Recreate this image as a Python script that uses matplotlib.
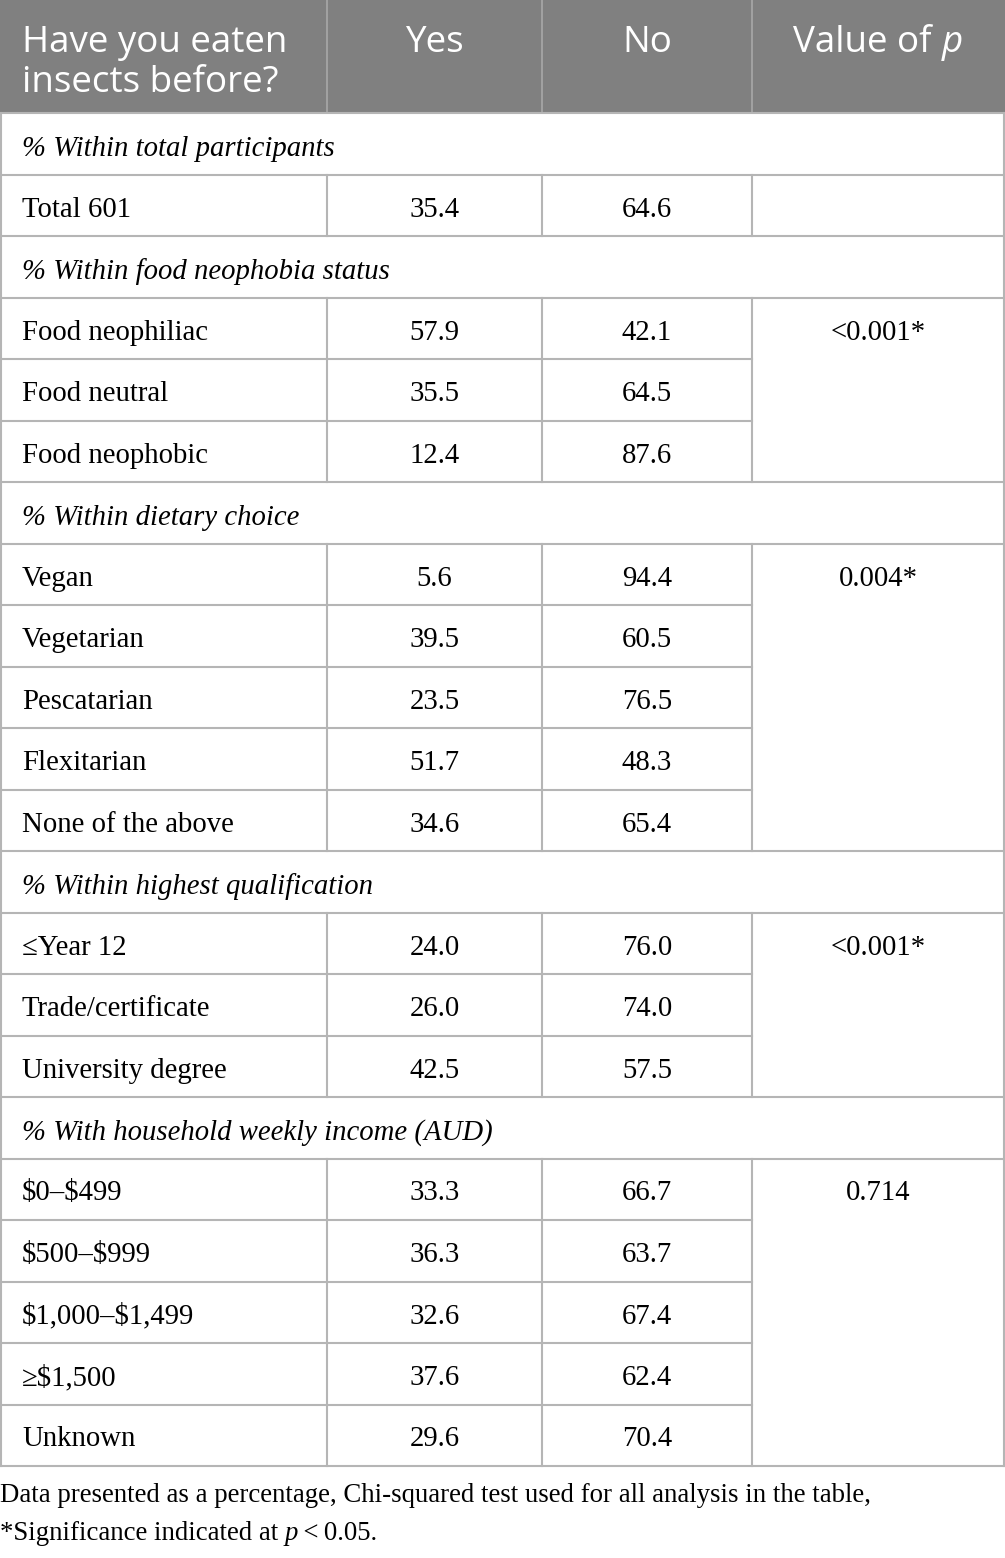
import matplotlib
matplotlib.use("Agg")
import matplotlib.pyplot as plt
from matplotlib.patches import Rectangle

plt.rcParams["text.parse_math"] = False

# ---------------- data ----------------
header_first = ["Have you eaten", "insects before?"]
header_cols = ["Yes", "No"]
header_p = ("Value of ", "p")

sections = [
    "% Within total participants",
    "% Within food neophobia status",
    "% Within dietary choice",
    "% Within highest qualification",
    "% With household weekly income (AUD)",
]
row_labels = [
    ["Total 601"],
    ["Food neophiliac", "Food neutral", "Food neophobic"],
    ["Vegan", "Vegetarian", "Pescatarian", "Flexitarian", "None of the above"],
    ["\u2264Year 12", "Trade/certificate", "University degree"],
    ["$0\u2013$499", "$500\u2013$999", "$1,000\u2013$1,499", "\u2265$1,500", "Unknown"],
]
yes_vals = [
    ["35.4"],
    ["57.9", "35.5", "12.4"],
    ["5.6", "39.5", "23.5", "51.7", "34.6"],
    ["24.0", "26.0", "42.5"],
    ["33.3", "36.3", "32.6", "37.6", "29.6"],
]
no_vals = [
    ["64.6"],
    ["42.1", "64.5", "87.6"],
    ["94.4", "60.5", "76.5", "48.3", "65.4"],
    ["76.0", "74.0", "57.5"],
    ["66.7", "63.7", "67.4", "62.4", "70.4"],
]
p_vals = ["", "<0.001*", "0.004*", "<0.001*", "0.714"]

footer1 = "Data presented as a percentage, Chi-squared test used for all analysis in the table,"
footer2 = ("*Significance indicated at ", "p", "\u2009<\u20090.05.")

# ---------------- layout ----------------
W, H = 1005, 1558
fig = plt.figure(figsize=(W / 100, H / 100), dpi=100)
ax = fig.add_axes([0, 0, 1, 1])
ax.set_xlim(0, W)
ax.set_ylim(H, 0)
ax.axis("off")

col_x = [0, 327, 542, 752, 1004]
header_h = 113
row_h = 61.5
base_off = 42
line_c = "#b5b5b5"
hdr_bg = "#808080"
hdr_line = "#a8a8a8"
serif = ["Liberation Serif", "DejaVu Serif"]
sans = ["Open Sans", "DejaVu Sans"]
body_fs = 20.7
hdr_fs = 26.5
foot_fs = 19.3

# header
ax.add_patch(Rectangle((0, 0), W, header_h, facecolor=hdr_bg, edgecolor="none"))
for x in col_x[1:4]:
    ax.plot([x, x], [0, header_h], color=hdr_line, lw=1.2)
ax.text(22, 52, header_first[0], fontsize=hdr_fs, family=sans, color="white", va="baseline", ha="left")
ax.text(22, 92, header_first[1], fontsize=hdr_fs, family=sans, color="white", va="baseline", ha="left")
for i, t in enumerate(header_cols):
    ax.text((col_x[i + 1] + col_x[i + 2]) / 2, 52, t, fontsize=hdr_fs, family=sans,
            color="white", va="baseline", ha="center")

fig.canvas.draw()
r = fig.canvas.get_renderer()
pc = (col_x[3] + col_x[4]) / 2
t1 = ax.text(0, 52, header_p[0], fontsize=hdr_fs, family=sans, color="white", va="baseline", ha="left")
t2 = ax.text(0, 52, header_p[1], fontsize=hdr_fs, family=sans, style="italic", color="white",
             va="baseline", ha="left")
w1 = t1.get_window_extent(r).width
w2 = t2.get_window_extent(r).width
x0 = pc - (w1 + w2) / 2
t1.set_x(x0)
t2.set_x(x0 + w1)

# body
y = header_h
ax.plot([0, W], [header_h, header_h], color=line_c, lw=1.5)
for g, sec in enumerate(sections):
    ax.text(22, y + base_off + 1, sec, fontsize=body_fs, family=serif, style="italic",
            va="baseline", ha="left")
    y += row_h
    ax.plot([0, W], [y, y], color=line_c, lw=1.5)
    g_top = y
    n = len(row_labels[g])
    for k in range(n):
        by = y + base_off
        ax.text(22, by, row_labels[g][k], fontsize=body_fs, family=serif, va="baseline", ha="left")
        ax.text((col_x[1] + col_x[2]) / 2, by, yes_vals[g][k], fontsize=body_fs, family=serif,
                va="baseline", ha="center")
        ax.text((col_x[2] + col_x[3]) / 2, by, no_vals[g][k], fontsize=body_fs, family=serif,
                va="baseline", ha="center")
        y += row_h
        if k < n - 1:
            ax.plot([0, col_x[3]], [y, y], color=line_c, lw=1.5)
        else:
            ax.plot([0, W], [y, y], color=line_c, lw=1.5)
    for x in col_x[1:4]:
        ax.plot([x, x], [g_top, y], color=line_c, lw=1.5)
    if p_vals[g]:
        ax.text(pc, g_top + base_off, p_vals[g], fontsize=body_fs, family=serif,
                va="baseline", ha="center")

table_bottom = y
ax.plot([0.75, 0.75], [header_h, table_bottom], color=line_c, lw=1.5)
ax.plot([W - 1.5, W - 1.5], [header_h, table_bottom], color=line_c, lw=1.5)

# footer
ax.text(0, 1502, footer1, fontsize=foot_fs, family=serif, va="baseline", ha="left")
fig.canvas.draw()
r = fig.canvas.get_renderer()
xx = 0
for i, part in enumerate(footer2):
    t = ax.text(xx, 1540, part, fontsize=foot_fs, family=serif,
                style="italic" if i == 1 else "normal", va="baseline", ha="left")
    xx += t.get_window_extent(r).width

fig.savefig("out.png", dpi=100)
